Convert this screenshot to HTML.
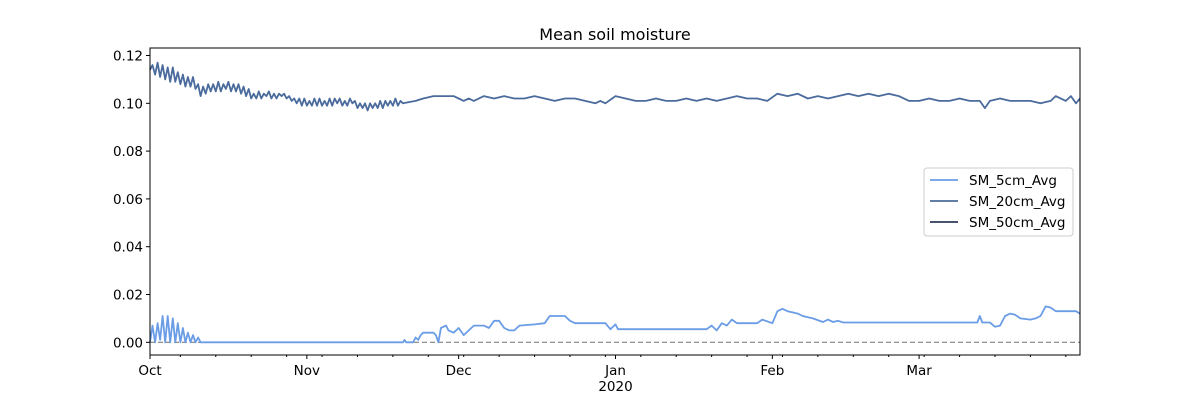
<!DOCTYPE html>
<html><head><meta charset="utf-8">
<style>
body{margin:0;background:#fff;font-family:"Liberation Sans","DejaVu Sans",sans-serif;}
svg text{font-family:"DejaVu Sans","Liberation Sans",sans-serif;}
</style></head>
<body>
<svg id="chart" width="1200" height="400" viewBox="0 0 1200 400" xmlns="http://www.w3.org/2000/svg">
<rect width="1200" height="400" fill="#fff"/>
<text x="615" y="40" font-size="16" text-anchor="middle" fill="#000">Mean soil moisture</text>
<g id="plot"></g>
</svg>
<script>
// ---- data ----
const monthLabels = ["Oct","Nov","Dec","Jan","Feb","Mar"];
const monthDays = [0,31,61,92,123,152];
const yTicks = [0.00,0.02,0.04,0.06,0.08,0.10,0.12];
const yTickLabels = ["0.00","0.02","0.04","0.06","0.08","0.10","0.12"];
// SM_20cm dense part, half-day spacing from day 0
const sm20Dense = [0.114,0.116,0.112,0.117,0.111,0.116,0.110,0.115,0.109,0.115,0.109,0.113,0.108,0.112,0.107,0.111,0.107,0.111,0.106,0.108,0.103,
0.107,0.104,0.108,0.105,0.108,0.105,0.109,0.105,0.108,0.106,0.109,0.105,0.108,0.105,0.108,0.104,0.107,0.103,0.106,
0.102,0.104,0.102,0.105,0.102,0.104,0.103,0.105,0.102,0.104,0.102,0.104,0.103,0.104,0.102,0.103,0.101,0.102,0.100,
0.102,0.099,0.102,0.099,0.101,0.099,0.102,0.099,0.102,0.099,0.101,0.099,0.102,0.099,0.102,0.100,0.102,0.099,0.101,0.099,0.102,0.100,0.101,
0.098,0.100,0.098,0.100,0.097,0.100,0.098,0.100,0.098,0.101,0.098,0.101,0.099,0.101,0.099,0.102,0.099,0.101,0.100];
const sm20Days = [52.5,54,56,60,61,62,63,64,66,68,70,72,74,76,78,80,82,84,86,88,89,90,92,94,96,98,100,102,104,106,108,110,112,114,116,118,120,122,124,126,128,130,132,134,136,138,140,142,144,146,148,150,152,154,156,158,160,162,164,165,166,168,170,172,174,176,178,179,181,182,183,183.8];
const sm20Vals = [0.101,0.102,0.103,0.103,0.102,0.101,0.102,0.101,0.103,0.102,0.103,0.102,0.102,0.103,0.102,0.101,0.102,0.102,0.101,0.100,0.101,0.100,0.103,0.102,0.101,0.101,0.102,0.101,0.101,0.102,0.101,0.102,0.101,0.102,0.103,0.102,0.102,0.101,0.104,0.103,0.104,0.102,0.103,0.102,0.103,0.104,0.103,0.104,0.103,0.104,0.103,0.101,0.101,0.102,0.101,0.101,0.102,0.101,0.101,0.098,0.101,0.102,0.101,0.101,0.101,0.100,0.101,0.103,0.101,0.103,0.100,0.102];
// SM_5cm dense part (half-day spacing) then sparse
const sm5Dense = [0,0.007,0,0.008,0.001,0.011,0,0.011,0,0.010,0,0.008,0,0.006,0,0.004,0,0.003,0,0.002,0];
const sm5Days = [11,50,50.3,50.6,52,52.5,53,53.5,54,56,56.5,57,57.5,58.5,59,60,61,62,63,64,66,67,68,69,70,71,72,73,76,78,79,82,83,84,90,91,92,92.5,110,111,112,113,114,115,116,120,121,123,124,125,126,127,128,129,131,133,134,135,136,137,163.5,164,164.5,166,167,168,169,170,171,172,174,175,176,177,178,179,183,183.8];
const sm5Vals = [0,0,0.001,0,0,0.002,0.001,0.003,0.004,0.004,0.003,0,0.006,0.007,0.005,0.004,0.006,0.003,0.005,0.007,0.007,0.006,0.009,0.009,0.006,0.005,0.005,0.007,0.0075,0.008,0.011,0.011,0.009,0.008,0.008,0.0055,0.0075,0.0055,0.0055,0.007,0.005,0.008,0.007,0.0095,0.008,0.008,0.0095,0.008,0.013,0.014,0.013,0.0125,0.012,0.011,0.010,0.0085,0.0095,0.0085,0.009,0.0083,0.0083,0.011,0.0083,0.0083,0.0065,0.007,0.011,0.012,0.0115,0.010,0.0095,0.010,0.011,0.015,0.0145,0.013,0.013,0.012];
const seriesNames = ["SM_5cm_Avg","SM_20cm_Avg","SM_50cm_Avg"];
const seriesColors = ["#6a9de6","#4a6b9c","#2e3b5a"];

// ---- axes ----
const X0=150,X1=1080,Y0=48,Y1=355;
const dayMax=183.8;
const xs=d=>X0+(d/dayMax)*(X1-X0);
const ys=v=>342.3-v*2390;
const NS="http://www.w3.org/2000/svg";
const plot=document.getElementById('plot');
function mk(tag,attrs,parent){const e=document.createElementNS(NS,tag);for(const k in attrs)e.setAttribute(k,attrs[k]);(parent||plot).appendChild(e);return e;}

// zero dashed line
const zl=mk('line',{x1:X0,x2:X1,y1:ys(0),y2:ys(0),stroke:'#808080','stroke-width':1.2,'stroke-dasharray':'5,3'});



function buildPts(dense,days,vals){
  const pts=[];
  dense.forEach((v,i)=>pts.push([i*0.5,v]));
  days.forEach((d,i)=>pts.push([d,vals[i]]));
  return pts.map((p,i)=>(i?'L':'M')+xs(p[0]).toFixed(1)+','+ys(p[1]).toFixed(1)).join(' ');
}
const p5=mk('path',{d:buildPts(sm5Dense,sm5Days,sm5Vals),fill:'none',stroke:seriesColors[0],'stroke-width':1.8,'stroke-linejoin':'round'});


const p20=mk('path',{d:buildPts(sm20Dense,sm20Days,sm20Vals),fill:'none',stroke:seriesColors[1],'stroke-width':1.8,'stroke-linejoin':'round'});



// frame
const fr=mk('rect',{x:X0,y:Y0,width:X1-X0,height:Y1-Y0,fill:'none',stroke:'#000','stroke-width':1});



// y ticks
yTicks.forEach((v,i)=>{
  const y=ys(v);
  const t=mk('line',{x1:X0-4,x2:X0,y1:y,y2:y,stroke:'#000'});
  
  
  const l=mk('text',{x:X0-7,y:y+5,'font-size':13.5,'text-anchor':'end',fill:'#000'});
  l.textContent=yTickLabels[i];
  
  
});
// minor weekly ticks (Mondays, first Oct 7)
for(let d=6;d<dayMax;d+=7){
  const t=mk('line',{x1:xs(d),x2:xs(d),y1:Y1,y2:Y1+2,stroke:'#000'});
  
  
}
monthLabels.forEach((m,i)=>{
  const x=xs(monthDays[i]);
  const t=mk('line',{x1:x,x2:x,y1:Y1,y2:Y1+4,stroke:'#000'});
  
  
  const l=mk('text',{x:x,y:Y1+20,'font-size':13.5,'text-anchor':'middle',fill:'#000'});
  l.textContent=m;
  
  
});
const yr=mk('text',{x:xs(92),y:Y1+36,'font-size':13.5,'text-anchor':'middle',fill:'#000'});
yr.textContent='2020';



// legend
const lg=mk('g',{});


mk('rect',{x:924,y:168,width:149,height:68,rx:3,fill:'#fff','fill-opacity':0.8,stroke:'#ccc'},lg);
seriesNames.forEach((n,i)=>{
  const y=180+i*21;
  const e=mk('g',{},lg);
  
  
  mk('line',{x1:930,x2:958,y1:y,y2:y,stroke:seriesColors[i],'stroke-width':1.8},e);
  const t=mk('text',{x:969,y:y+5,'font-size':13.5,fill:'#000'},e);
  t.textContent=n;
});
</script>
</body></html>
